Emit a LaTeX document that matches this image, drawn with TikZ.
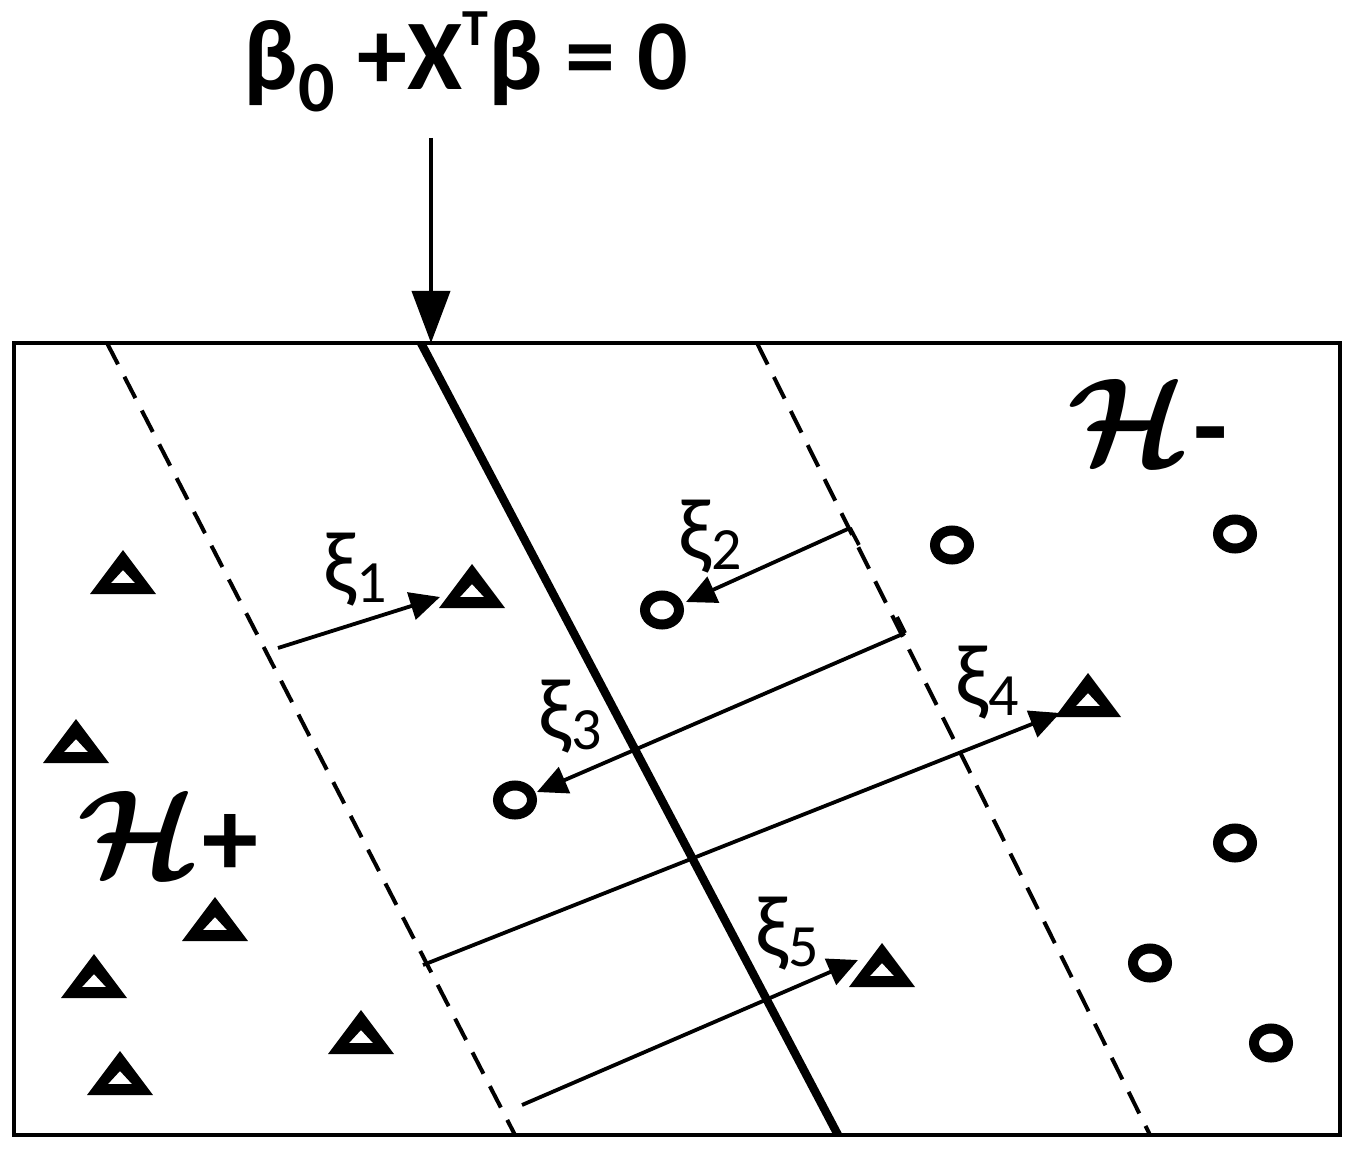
\documentclass[tikz,border=0pt]{standalone}
\usepackage{fontspec}
\newfontfamily\calib{Carlito}
\usetikzlibrary{arrows.meta}
\tikzset{
  frame/.style={line width=1.6pt},
  sep/.style={line width=4.2pt},
  margin/.style={line width=2pt, dash pattern=on 12pt off 7pt},
  slack/.style={line width=1.9pt, -{Triangle[length=15pt,width=14pt]}},
  slackline/.style={line width=1.9pt},
  circ/.style={line width=5pt},
  lab/.style={inner sep=0pt, font=\calib\fontsize{30}{30}\selectfont},
  hlab/.style={inner sep=0pt},
  pics/tri/.style={code={
    \fill[even odd rule] (-33,21) -- (33,21) -- (0,-23) -- cycle
      (-12,10) -- (12,10) -- (0,-3) -- cycle;}},
}
\newcommand{\xilab}[1]{{\fontsize{44}{44}\selectfont ξ}\raisebox{-5pt}{#1}}
\newcommand{\bigH}{\scalebox{6.2}{\boldmath$\mathcal{H}$}}
\begin{document}
\begin{tikzpicture}[x=0.5pt,y=-0.5pt]
\useasboundingbox (0,0) rectangle (1355,1150);
% title
\node[inner sep=0pt, font=\calib\bfseries\fontsize{50}{50}\selectfont] (title) at (466,62)
  {β\raisebox{-11pt}{\fontsize{36}{36}\selectfont 0} +X\raisebox{22pt}{\fontsize{26}{26}\selectfont T}β = 0};
% frame
\draw[frame] (14,343) rectangle (1340,1135);
% separating line and margins
\coordinate (st) at (421,343);
\coordinate (sb) at (838,1135);
\draw[sep] (st) -- (sb);
\coordinate (lt) at (107,343);
\coordinate (lb) at (515,1135);
\draw[margin] (lt) -- (lb);
\coordinate (rt) at (757,343);
\coordinate (rb) at (1150,1135);
\draw[margin] (rt) -- (rb);
% pointer arrow
\coordinate (ptop) at (431,138);
\coordinate (ptip) at (431,343);
\draw[line width=1.9pt, -{Triangle[length=26pt,width=19pt]}] (ptop) -- (ptip);
% triangles
\foreach \n/\x/\y in {t1/123/573, t2/472/587, t3/76/742, t4/215/920, t5/94/977,
                      t6/120/1074, t7/361/1033, t8/1088/696, t9/882/966}
  \pic at (\x,\y) {tri};
% circles
\foreach \x/\y in {952/545, 1235/534, 662/610, 515/800, 1235/843, 1150/963, 1271/1043}
  \draw[circ] (\x,\y) ellipse [x radius=17, y radius=14.5];
% slack arrows
\coordinate (a1) at (278,648);  \coordinate (b1) at (440,597);
\draw[slack] (a1) -- (b1);
\coordinate (a2) at (850,528);  \coordinate (k2) at (859,545); \coordinate (b2) at (686,602);
\draw[slackline] (k2) -- (a2);
\draw[slack] (a2) -- (b2);
\coordinate (a3) at (905,633);  \coordinate (k3) at (897,617); \coordinate (b3) at (537,792);
\draw[slackline] (k3) -- (a3);
\draw[slack] (a3) -- (b3);
\coordinate (a4) at (423,965);  \coordinate (b4) at (1060,713);
\draw[slack] (a4) -- (b4);
\coordinate (a5) at (522,1105); \coordinate (b5) at (858,960);
\draw[slack] (a5) -- (b5);
% labels
\node[lab] (x1) at (355,570) {\xilab{1}};
\node[lab] (x2) at (710,537) {\xilab{2}};
\node[lab] (x3) at (570,717) {\xilab{3}};
\node[lab] (x4) at (987,683) {\xilab{4}};
\node[lab] (x5) at (787,934) {\xilab{5}};
\node[hlab] (hp) at (168,834) {\bigH\,{\calib\bfseries\fontsize{56}{56}\selectfont +}};
\node[hlab] (hm) at (1148,422) {\bigH\,{\calib\bfseries\fontsize{56}{56}\selectfont -}};
\end{tikzpicture}
\end{document}
